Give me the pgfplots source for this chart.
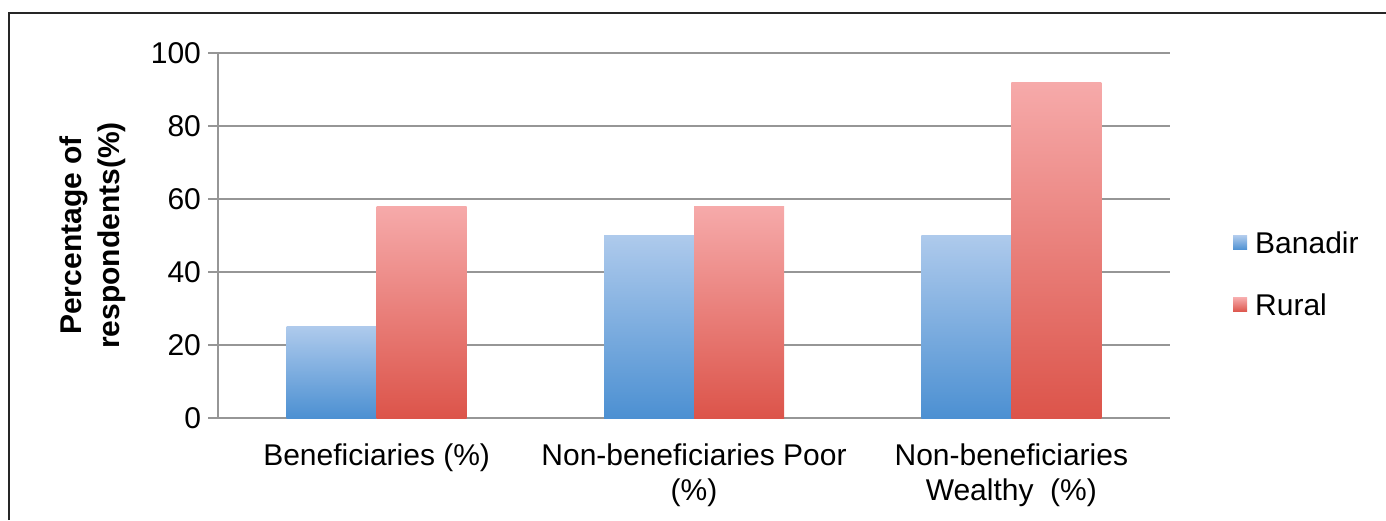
\documentclass[border=0pt]{standalone}
\usepackage{pgfplots}
\pgfplotsset{compat=1.18}
\usepackage{fontspec}
\setmainfont{Liberation Sans}

\definecolor{gridgray}{RGB}{150,150,150}
\definecolor{blueTop}{RGB}{174,202,236}
\definecolor{blueBot}{RGB}{76,144,210}
\definecolor{redTop}{RGB}{246,170,170}
\definecolor{redBot}{RGB}{220,84,74}

% each bar is its own plot so that its gradient runs over its own height
\pgfplotsset{
  banadir/.style={draw=none, top color=blueTop, bottom color=blueBot, bar shift=-22.5pt},
  rural/.style={draw=none, top color=redTop, bottom color=redBot, bar shift=22.5pt},
}

\begin{document}
\begin{tikzpicture}
\useasboundingbox (0,0) rectangle (693pt,260pt);
% outer frame
\draw[line width=1pt, black!85] (4.5pt,0) -- (4.5pt,253.5pt) -- (693pt,253.5pt);

\begin{axis}[
  at={(109pt,51pt)}, anchor=south west,
  scale only axis, width=476pt, height=182.5pt,
  ybar=0pt, bar width=45pt,
  xmin=-0.5, xmax=2.5, ymin=0, ymax=100,
  xtick={0,1,2},
  xticklabels={{Beneficiaries (\%)},{Non-beneficiaries Poor\\(\%)},{Non-beneficiaries\\Wealthy\ \ (\%)}},
  ytick={0,20,...,100},
  axis x line*=bottom, axis y line*=left,
  ymajorgrids, grid style={color=gridgray, line width=0.9pt},
  axis line style={gridgray, line width=0.9pt},
  major x tick style={draw=none},
  ytick style={gridgray, line width=0.9pt},
  tick align=outside, major tick length=5pt,
  /pgf/number format/assume math mode=true,
  yticklabel style={font=\fontsize{15}{18}\selectfont},
  xticklabel style={font=\fontsize{15}{17.5}\selectfont, align=center, anchor=north, yshift=-4.5pt},
  ylabel={Percentage of\\respondents(\%)},
  ylabel style={font=\bfseries\fontsize{15}{19}\selectfont, align=center,
                at={(axis description cs:-0.1313,0.5)}, anchor=center},
  legend style={draw=none, fill=none, at={(axis description cs:1.066,0.395)}, anchor=west,
                font=\fontsize{15}{18}\selectfont, row sep=17.5pt, inner sep=0pt,
                nodes={inner sep=1.5pt, text height=10.5pt, text depth=0pt}},
  legend cell align=left,
  legend image code/.code={\fill[#1] (0pt,-3.5pt) rectangle (7pt,3.5pt);
                           \path (0pt,0pt) -- (9.5pt,0pt);},
]
\addplot[banadir] coordinates {(0,25)};
\addplot[rural] coordinates {(0,58)};
\addplot[banadir, forget plot] coordinates {(1,50)};
\addplot[rural, forget plot] coordinates {(1,58)};
\addplot[banadir, forget plot] coordinates {(2,50)};
\addplot[rural, forget plot] coordinates {(2,92)};
\legend{Banadir,Rural}
\end{axis}
\end{tikzpicture}
\end{document}
